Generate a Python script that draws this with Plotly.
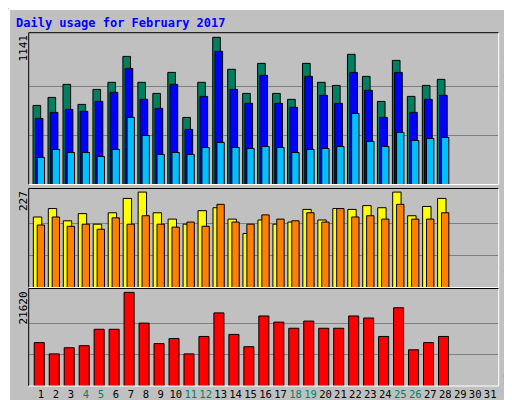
import plotly.graph_objects as go

days = list(range(1, 29))
hits = [613,675,776,621,737,792,993,792,706,869,520,792,1141,893,706,939,706,660,939,792,768,1009,838,644,962,683,768,815]
files = [512,559,582,567,644,714,900,660,590,776,427,683,1032,737,629,846,629,598,838,691,629,869,730,520,869,559,660,691]
pages = [210,272,248,248,217,272,520,380,233,248,233,287,326,287,279,295,287,248,272,279,295,551,334,295,404,341,357,365]
visits = [167,187,158,175,150,177,211,226,177,162,150,182,189,162,128,160,150,155,185,160,187,185,194,189,226,170,192,211]
sites = [148,167,145,150,138,165,150,170,150,143,155,145,197,155,150,172,162,158,177,155,187,167,170,162,197,162,162,177]
kbytes = [10021,7417,8837,9310,13098,13098,21620,14518,9784,10967,7417,11441,16885,11914,9074,16175,14755,13335,14991,13335,13335,16175,15702,11441,18069,8364,10021,11441]
tick_days = list(range(1, 32))
weekends = [4,5,11,12,18,19,25,26]

W, H = 512, 400
def py(p): return 1 - p / H

fig = go.Figure()
line = dict(color="black", width=1)
def bar(y, color, off, w, ax):
    fig.add_trace(go.Bar(x=days, y=y, marker=dict(color=color, line=line), offset=off, width=w,
                         xaxis="x", yaxis=ax, showlegend=False, hoverinfo="y"))

bar(hits, "#008060", -0.53, 0.51, "y")
bar(files, "#0000ff", -0.38, 0.51, "y")
bar(pages, "#00c0ff", -0.25, 0.49, "y")
bar(visits, "#ffff00", -0.51, 0.56, "y2")
bar(sites, "#ff8000", -0.25, 0.49, "y2")
bar(kbytes, "#ff0000", -0.45, 0.67, "y3")

def yax(dom, mx, rng):
    return dict(domain=dom, range=[0, rng], tickvals=[mx/3, 2*mx/3], showticklabels=False,
                showgrid=True, gridcolor="#808080", gridwidth=1, zeroline=False, fixedrange=True)

mh, mv, mk = max(hits), max(visits), max(kbytes)
ticktext = [f'<span style="color:{"#008060" if d in weekends else "black"}">{d}</span>' for d in tick_days]
fig.update_layout(
    width=W, height=H, margin=dict(l=0, r=0, t=0, b=0),
    paper_bgcolor="#c0c0c0", plot_bgcolor="#c0c0c0", barmode="overlay",
    font=dict(family="DejaVu Sans Mono", size=11, color="black"),
    xaxis=dict(domain=[20.7/W, 490.7/W], range=[0.18, 31.57], tickvals=tick_days, ticktext=ticktext,
               anchor="y3", showgrid=False, zeroline=False, ticks="", tickangle=0,
               tickfont=dict(size=10.5), fixedrange=True),
    yaxis=yax([py(176.5), py(24.7)], mh, mh*151.6/147),
    yaxis2=yax([py(279.5), py(180.7)], mv, mv*96.0/92.7),
    yaxis3=yax([py(378), py(280.5)], mk, mk*95.2/91.4),
)

shapes = []
def ln(x0, y0, x1, y1, c, w=1):
    shapes.append(dict(type="line", xref="paper", yref="paper", x0=x0/W, y0=py(y0), x1=x1/W, y1=py(y1), line=dict(color=c, width=w)))
ln(1, 1, 511, 1, "white", 2); ln(1, 1, 1, 399, "white", 2)
ln(511, 1, 511, 399, "#808080", 2); ln(1, 399, 511, 399, "#808080", 2)
for top, bot in [(24.7, 176.5), (180.5, 279.5), (280.5, 378)]:
    ln(20.7, top, 490.7, top, "black"); ln(20.7, top, 20.7, bot, "black")
    ln(490.7, top, 490.7, bot, "white"); ln(20.7, bot, 490.7, bot, "white")
fig.update_layout(shapes=shapes)

anns = [
    dict(x=6/W, y=py(15), text="<b>Daily usage for February 2017</b>", xanchor="left", yanchor="middle",
         font=dict(color="#0000ff", size=12, family="DejaVu Sans Mono")),
    dict(x=15/W, y=py(25), text="1141", textangle=-90, xanchor="center", yanchor="top"),
    dict(x=15/W, y=py(181), text="227", textangle=-90, xanchor="center", yanchor="top"),
    dict(x=15/W, y=py(282), text="21620", textangle=-90, xanchor="center", yanchor="top"),
]
CH = 5.55
def side(segs, y0):
    y = y0
    for txt, col in segs:
        h = len(txt) * CH
        anns.append(dict(x=501/W, y=py(y + h/2), text=txt, textangle=-90, xanchor="center", yanchor="middle",
                         font=dict(color=col, size=10, family="DejaVu Sans Mono")))
        y += h
side([("Hits", "#008060"), ("/", "black"), ("Files", "#0000ff"), ("/", "black"), ("Pages", "#00c0ff")], 26)
side([("Visits", "#ffff00"), ("/", "black"), ("Sites", "#ff8000")], 198)
side([("KBytes", "#ff0000")], 342)
# spacing for slashes: make them occupy 3 chars
for a in anns:
    a.setdefault("font", dict(size=11, family="DejaVu Sans Mono"))
    a.update(xref="paper", yref="paper", showarrow=False)
fig.update_layout(annotations=anns)
fig.write_html("out.html")
